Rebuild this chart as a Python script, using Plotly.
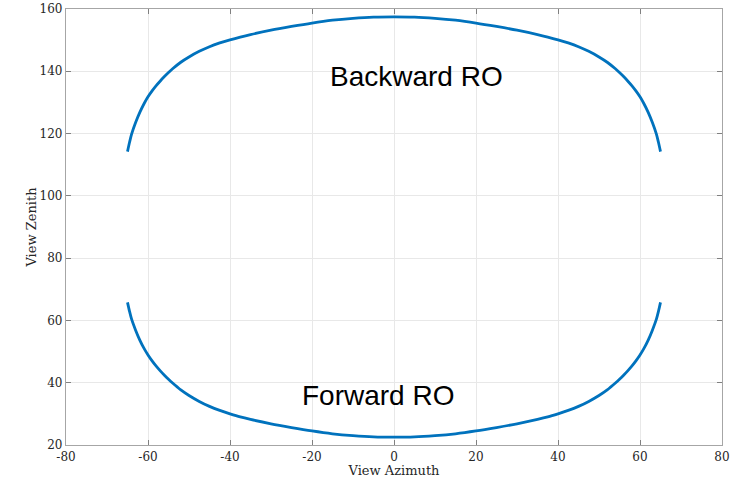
import plotly.graph_objects as go

# View azimuth (deg)
azimuth_left = [-65, -64.5, -64, -63, -62, -61, -60, -59, -58, -57, -56, -55, -54, -52, -50,
                -47.5, -45, -42.5, -40, -37.5, -35, -30, -25, -20, -15, -10, -5, 0]
azimuth = azimuth_left + [-a for a in reversed(azimuth_left[:-1])]

backward_left = [114.2, 117.2, 119.8, 123.6, 126.8, 129.5, 131.8, 133.7, 135.4, 136.9, 138.3, 139.6,
                 140.8, 142.9, 144.6, 146.4, 147.9, 149.1, 150.1, 151.0, 151.8, 153.2, 154.4, 155.5,
                 156.4, 157.0, 157.4, 157.5]
backward_zenith = backward_left + list(reversed(backward_left[:-1]))

forward_left = [65.8, 62.9, 60.4, 56.8, 53.7, 51.1, 48.9, 47.0, 45.3, 43.8, 42.4, 41.1,
                39.9, 37.7, 35.9, 34.0, 32.4, 31.1, 30.0, 29.0, 28.2, 26.8, 25.6, 24.5,
                23.6, 23.0, 22.6, 22.5]
forward_zenith = forward_left + list(reversed(forward_left[:-1]))

labels = ["Backward RO", "Forward RO"]
label_x = [5.6, -3.8]
label_y = [138.3, 36.0]

x_ticks = [-80, -60, -40, -20, 0, 20, 40, 60, 80]
x_tick_text = ["-80", "-60", "-40", "-20", "0", "20", "40", "60", "80"]
y_ticks = [20, 40, 60, 80, 100, 120, 140, 160]

line_color = "#0072BD"

fig = go.Figure()
fig.add_trace(go.Scatter(x=azimuth, y=backward_zenith, mode="lines",
                         line=dict(color=line_color, width=2.8, shape="spline", smoothing=0.8),
                         showlegend=False))
fig.add_trace(go.Scatter(x=azimuth, y=forward_zenith, mode="lines",
                         line=dict(color=line_color, width=2.8, shape="spline", smoothing=0.8),
                         showlegend=False))

for t, xx, yy in zip(labels, label_x, label_y):
    fig.add_annotation(x=xx, y=yy, xref="x", yref="y", text=t, showarrow=False,
                       font=dict(family="Liberation Sans, Arial, sans-serif", size=28, color="black"))

axis_common = dict(showgrid=True, gridcolor="#e8e8e8", gridwidth=1,
                   showline=True, linecolor="#a6a6a6", linewidth=1.2, mirror="ticks",
                   ticks="inside", ticklen=5, tickcolor="#808080", tickwidth=1,
                   zeroline=False, automargin=False,
                   tickfont=dict(family="DejaVu Serif, serif", size=12, color="#262626"))

fig.update_xaxes(range=[-80, 80], tickvals=x_ticks, ticktext=x_tick_text,
                 title=dict(text="View Azimuth", standoff=0,
                            font=dict(family="DejaVu Serif, serif", size=13, color="#262626")),
                 **axis_common)
fig.update_yaxes(range=[20, 160], tickvals=y_ticks,
                 title=dict(text="View Zenith", standoff=0,
                            font=dict(family="DejaVu Serif, serif", size=13, color="#262626")),
                 **axis_common)

fig.update_layout(width=744, height=479,
                  margin=dict(l=66, r=22, t=9, b=34, autoexpand=False),
                  paper_bgcolor="white", plot_bgcolor="white")

fig.write_html("out.html", config={"displayModeBar": False},
               post_script="document.body.style.margin='0';document.body.style.overflow='hidden';")
